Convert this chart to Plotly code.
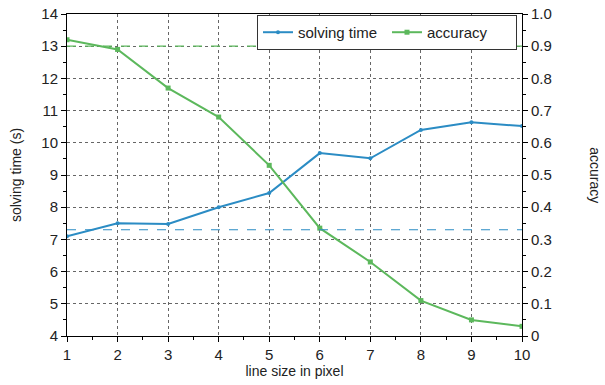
import plotly.graph_objects as go

line_size = [1, 2, 3, 4, 5, 6, 7, 8, 9, 10]
solving_time = [7.1, 7.5, 7.48, 8.0, 8.44, 9.68, 9.52, 10.4, 10.64, 10.52]
accuracy = [0.92, 0.89, 0.77, 0.68, 0.53, 0.335, 0.23, 0.11, 0.05, 0.03]
baseline_time = 7.3
baseline_acc = 0.9
acc_tick_vals = [0, 0.1, 0.2, 0.3, 0.4, 0.5, 0.6, 0.7, 0.8, 0.9, 1.0]
acc_tick_text = ["0", "0.1", "0.2", "0.3", "0.4", "0.5", "0.6", "0.7", "0.8", "0.9", "1.0"]

BLUE = "#2b8cc4"
GREEN = "#5cb85c"
FONT = "Liberation Sans, Arial, sans-serif"

fig = go.Figure()
fig.add_trace(go.Scatter(x=line_size, y=solving_time, name="solving time", mode="lines+markers",
                         line=dict(color=BLUE, width=2), marker=dict(size=4, color=BLUE, symbol="circle")))
fig.add_trace(go.Scatter(x=line_size, y=accuracy, name="accuracy", mode="lines+markers", yaxis="y2",
                         line=dict(color=GREEN, width=2), marker=dict(size=5, color=GREEN, symbol="square")))

fig.add_shape(type="line", xref="paper", x0=0, x1=1, yref="y", y0=baseline_time, y1=baseline_time,
              line=dict(color=BLUE, width=1.2, dash="dash"))
fig.add_shape(type="line", xref="paper", x0=0, x1=1, yref="y2", y0=baseline_acc, y1=baseline_acc,
              line=dict(color=GREEN, width=1.2, dash="dash"))

axis_common = dict(showline=True, linecolor="black", linewidth=1, ticks="outside", ticklen=5,
                   tickcolor="black", tickfont=dict(size=15, color="#222", family=FONT),
                   zeroline=False, automargin=False, ticklabeloverflow="allow")

fig.update_layout(
    width=605, height=385,
    margin=dict(l=67, r=83, t=14, b=49),
    paper_bgcolor="white", plot_bgcolor="white",
    font=dict(family=FONT, color="#222"),
    showlegend=True,
    legend=dict(orientation="h", x=0.989, xanchor="right", y=0.997, yanchor="top",
                bordercolor="#333", borderwidth=1, bgcolor="white",
                font=dict(size=15, family=FONT), itemwidth=30, entrywidth=84),
    xaxis=dict(range=[1, 10], dtick=1, mirror=True,
               showgrid=True, gridcolor="#666", griddash="dot", gridwidth=1,
               minor=dict(dtick=0.5, ticks="outside", ticklen=3, tickcolor="black"),
               title=dict(text="line size in pixel", font=dict(size=14, family=FONT), standoff=0),
               **axis_common),
    yaxis=dict(range=[4, 14], dtick=1,
               showgrid=True, gridcolor="#666", griddash="dot", gridwidth=1,
               minor=dict(dtick=0.5, ticks="outside", ticklen=3, tickcolor="black"),
               title=dict(text="solving time (s)", font=dict(size=14, family=FONT), standoff=16),
               **axis_common),
    yaxis2=dict(range=[0, 1], overlaying="y", side="right", showgrid=False,
                tickvals=acc_tick_vals, ticktext=acc_tick_text,
                minor=dict(dtick=0.05, ticks="outside", ticklen=3, tickcolor="black"),
                **axis_common),
)
fig.add_annotation(text="accuracy", xref="paper", x=1.16, xanchor="center", yref="paper", y=0.5,
                   yanchor="middle", textangle=90, showarrow=False,
                   font=dict(size=14, family=FONT, color="#222"))

fig.write_html("out.html", config={"displayModeBar": False},
               post_script="document.body.style.margin='0';")
